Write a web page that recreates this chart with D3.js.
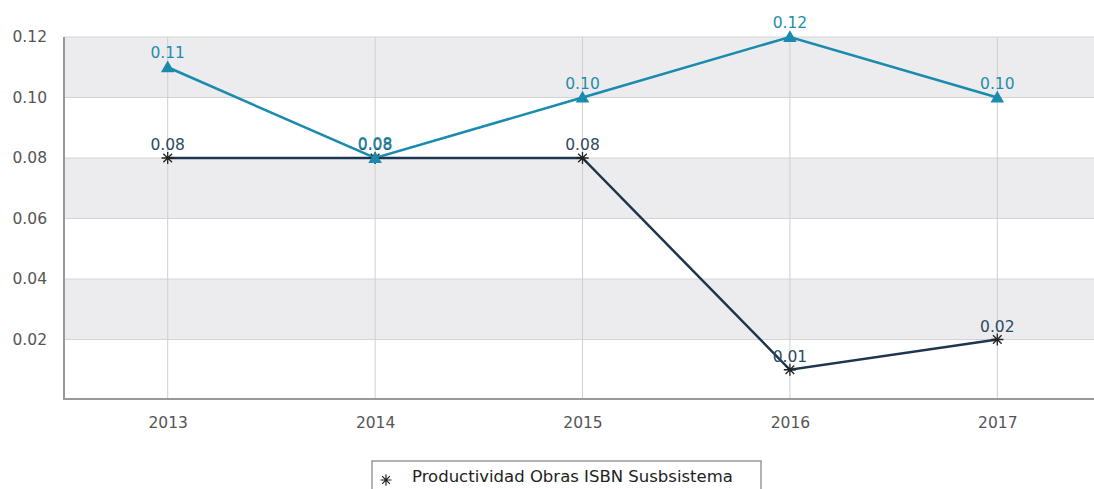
<!DOCTYPE html>
<html><head><meta charset="utf-8">
<script src="https://cdn.jsdelivr.net/npm/d3@7"></script>
<style>body{margin:0;background:#fff;}svg{display:block;font-family:"DejaVu Sans",sans-serif;}
svg text{font-family:"DejaVu Sans",sans-serif;}</style>
</head><body><svg id="c" width="1094" height="489"></svg>
<script>
const years = ["2013","2014","2015","2016","2017"];
const seriesDark = [0.08, 0.08, 0.08, 0.01, 0.02];
const seriesTeal = [0.11, 0.08, 0.10, 0.12, 0.10];
const darkName = "Productividad Obras ISBN Susbsistema";
const yTicks = [0.02, 0.04, 0.06, 0.08, 0.10, 0.12];

(function () {
const svg = d3.select("#c");
const pL = 64, pR = 1101, pT = 37, pB = 400;
const x = d3.scalePoint().domain(years).range([pL, pR]).padding(0.5);
const y = d3.scaleLinear().domain([0, 0.12]).range([pB, pT]);

const bandEdges = [0, ...yTicks];
for (let i = 0; i < bandEdges.length - 1; i++) {
  if (i % 2 === 1) {
    svg.append("rect").attr("x", pL).attr("width", 1094 - pL)
      .attr("y", y(bandEdges[i+1])).attr("height", y(bandEdges[i]) - y(bandEdges[i+1]))
      .attr("fill", "#ececef");
  }
}
svg.append("g").selectAll("line").data(yTicks).join("line")
  .attr("x1", pL).attr("x2", 1094).attr("y1", d => y(d)).attr("y2", d => y(d))
  .attr("stroke", "#d4d4d6").attr("stroke-width", 1);
svg.append("g").selectAll("line").data(years).join("line")
  .attr("x1", d => x(d)).attr("x2", d => x(d)).attr("y1", pT).attr("y2", pB)
  .attr("stroke", "#cfcfcf").attr("stroke-width", 1);

const yAxis = svg.append("g").attr("transform", `translate(${pL},0)`)
  .call(d3.axisLeft(y).tickValues(yTicks).tickFormat(d3.format(".2f")).tickSize(0).tickPadding(17));
yAxis.attr("font-size", null).attr("font-family", null);
yAxis.select(".domain").remove();
yAxis.selectAll("text").style("font-size", "15.5px").attr("fill", "#555");
svg.append("line").attr("x1", pL).attr("x2", pL).attr("y1", pT).attr("y2", pB)
  .attr("stroke", "#999").attr("stroke-width", 2);

const xAxis = svg.append("g").attr("transform", `translate(0,${pB})`)
  .call(d3.axisBottom(x).tickSize(0).tickPadding(17));
xAxis.attr("font-size", null).attr("font-family", null);
xAxis.select(".domain").remove();
xAxis.selectAll("text").style("font-size", "15.5px").attr("fill", "#555");
svg.append("line").attr("x1", pL - 1).attr("x2", 1094).attr("y1", pB - 1).attr("y2", pB - 1)
  .attr("stroke", "#999").attr("stroke-width", 2);

const line = d3.line().x((d, i) => x(years[i])).y(d => y(d));
const teal = "#1a8bae", dark = "#1e3550";

svg.append("path").datum(seriesDark).attr("d", line).attr("fill", "none")
  .attr("stroke", dark).attr("stroke-width", 2.5);
svg.append("path").datum(seriesTeal).attr("d", line).attr("fill", "none")
  .attr("stroke", teal).attr("stroke-width", 2.5);

// 8-armed asterisk symbol
const star8 = {
  draw(ctx, size) {
    const r = Math.sqrt(size) / 2;
    for (let k = 0; k < 4; k++) {
      const a = k * Math.PI / 4;
      ctx.moveTo(r * Math.cos(a), r * Math.sin(a));
      ctx.lineTo(-r * Math.cos(a), -r * Math.sin(a));
    }
  }
};
const star = d3.symbol().type(star8).size(150);
svg.append("g").selectAll("path").data(seriesDark).join("path")
  .attr("d", star).attr("transform", (d, i) => `translate(${x(years[i])},${y(d)})`)
  .attr("stroke", "#222").attr("stroke-width", 1.3).attr("fill", "none");
const tri = d3.symbol().type(d3.symbolTriangle).size(80);
svg.append("g").selectAll("path").data(seriesTeal).join("path")
  .attr("d", tri).attr("transform", (d, i) => `translate(${x(years[i])},${y(d) + 1})`)
  .attr("fill", teal);

svg.append("g").selectAll("text").data(seriesDark).join("text")
  .attr("x", (d, i) => x(years[i])).attr("y", d => y(d) - 8)
  .attr("text-anchor", "middle").style("font-size", "15.5px").attr("fill", "#2b4a62")
  .text(d => d3.format(".2f")(d));
svg.append("g").selectAll("text").data(seriesTeal).join("text")
  .attr("x", (d, i) => x(years[i])).attr("y", d => y(d) - 9)
  .attr("text-anchor", "middle").style("font-size", "15.5px").attr("fill", "#1f8cab")
  .text(d => d3.format(".2f")(d));

const lg = svg.append("g");
lg.append("rect").attr("x", 372).attr("y", 461).attr("width", 389).attr("height", 40)
  .attr("fill", "#fff").attr("stroke", "#999").attr("stroke-width", 1.5);
lg.append("path").attr("d", d3.symbol().type(star8).size(120))
  .attr("transform", "translate(386,480)").attr("stroke", "#222").attr("stroke-width", 1.2).attr("fill", "none");
lg.append("text").attr("x", 412).attr("y", 482).style("font-size", "16.5px").attr("fill", "#222")
  .text(darkName);
})();
</script></body></html>
